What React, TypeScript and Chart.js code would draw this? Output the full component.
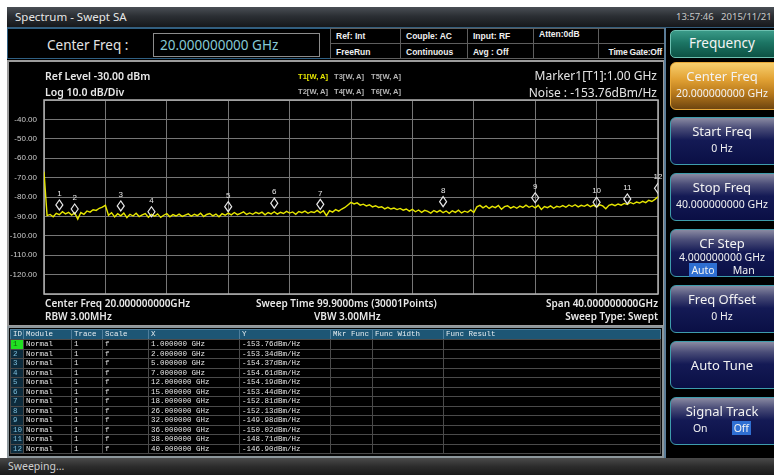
import React, { useEffect, useRef } from "react";
import { Chart, registerables } from "chart.js";

Chart.register(...registerables);

// ---- data ----
const FREQ_MIN_GHZ = 0;
const FREQ_MAX_GHZ = 40;
const FREQ_STEP_GHZ = 0.2;
const REF_LEVEL_DBM = -30;
const BOTTOM_LEVEL_DBM = -130;
const DB_PER_DIV = 10;

const TRACE_DBM = [
  -67.0, -89.6, -89.0, -90.2, -88.4, -89.1, -87.6, -88.7, -87.9, -89.3,
  -88.2, -91.4, -88.0, -88.9, -87.2, -87.8, -86.6, -86.9, -85.8, -85.2,
  -84.3, -89.4, -88.1, -90.3, -88.6, -89.7, -88.3, -90.6, -88.9, -89.8,
  -88.4, -90.1, -89.2, -88.5, -90.4, -89.0, -89.9, -88.7, -90.5, -89.4,
  -88.6, -90.2, -89.1, -89.8, -88.8, -90.0, -89.3, -88.7, -89.9, -88.9,
  -89.6, -88.4, -90.1, -89.0, -88.5, -89.7, -88.8, -90.2, -88.6, -89.4,
  -88.3, -89.2, -88.0, -89.1, -88.4, -87.7, -89.0, -88.2, -88.9, -87.9,
  -88.6, -87.8, -89.2, -88.0, -88.7, -87.6, -88.8, -87.9, -88.5, -87.4,
  -88.3, -87.7, -88.9, -87.5, -88.1, -87.3, -88.4, -87.6, -88.0, -86.9,
  -88.2, -87.1, -89.6, -87.0, -87.8, -86.5, -87.3, -86.2, -85.4, -84.1,
  -82.8, -83.6, -83.0, -84.2, -83.7, -84.6, -84.0, -85.1, -84.5, -85.4,
  -85.0, -86.1, -85.3, -86.2, -85.7, -86.5, -85.9, -86.8, -86.2, -87.3,
  -86.4, -87.6, -86.7, -87.9, -86.9, -87.4, -88.3, -87.0, -87.8, -86.9,
  -88.1, -87.2, -88.4, -87.1, -87.9, -86.8, -88.2, -87.3, -87.9, -86.7,
  -88.0, -85.1, -84.3, -85.6, -84.6, -85.9, -84.8, -85.5, -84.4, -86.3,
  -85.0, -84.5, -85.7, -84.9, -85.8, -84.7, -85.4, -84.2, -85.3, -84.6,
  -85.6, -84.3, -86.4, -84.9, -85.5, -84.6, -85.8, -84.8, -85.2, -84.4,
  -85.3, -84.1, -84.9, -84.0, -85.1, -84.3, -84.8, -83.9, -85.0, -84.2,
  -85.2, -84.0, -84.6, -86.1, -84.3, -83.8, -84.5, -83.6, -84.2, -83.3,
  -83.9, -82.8, -83.5, -82.6, -83.1, -82.2, -82.9, -81.7, -82.3, -81.2,
  -79.9,
];

const MARKER_IDS = [1, 2, 3, 4, 5, 6, 7, 8, 9, 10, 11, 12];
const MARKER_FREQ_GHZ = [1, 2, 5, 7, 12, 15, 18, 26, 32, 36, 38, 40];
const MARKER_LEVEL_DBM = [-84.1, -86.2, -84.6, -87.6, -85.0, -83.2, -83.8, -82.4, -80.4, -82.7, -81.0, -75.5];
const MARKER_NOISE_DBM_HZ = [-153.76, -153.34, -154.37, -154.61, -154.19, -153.44, -152.81, -152.13, -149.98, -150.02, -148.71, -146.9];

const TABLE_HEADERS = ["ID", "Module", "Trace", "Scale", "X", "Y", "Mkr Func", "Func Width", "Func Result"];

// ---- layout helpers ----
const UI_FONT = '"Noto Sans", "Open Sans", sans-serif';
const BOLD_FONT = '"Liberation Sans", Arial, sans-serif';
const MONO_FONT = '"Liberation Mono", "DejaVu Sans Mono", monospace';

const abs = (left: number, top: number, width: number, height: number, extra: React.CSSProperties = {}): React.CSSProperties => ({
  position: "absolute",
  left,
  top,
  width,
  height,
  boxSizing: "border-box",
  ...extra,
});

function SpectrumChart() {
  const ref = useRef<HTMLCanvasElement | null>(null);
  useEffect(() => {
    if (!ref.current) return;
    const tracePoints = TRACE_DBM.map((v, i) => ({ x: FREQ_MIN_GHZ + i * FREQ_STEP_GHZ, y: v }));
    const markerPoints = MARKER_FREQ_GHZ.map((f, i) => ({ x: f, y: MARKER_LEVEL_DBM[i] }));

    const framePlugin = {
      id: "frame",
      beforeDatasetsDraw(chart: any) {
        const { ctx, chartArea } = chart;
        ctx.save();
        ctx.strokeStyle = "#b0b0b0";
        ctx.lineWidth = 1.5;
        ctx.strokeRect(chartArea.left, chartArea.top, chartArea.right - chartArea.left, chartArea.bottom - chartArea.top);
        ctx.restore();
      },
    };

    const markerPlugin = {
      id: "markers",
      afterDatasetsDraw(chart: any) {
        const meta = chart.getDatasetMeta(1);
        const { ctx, chartArea } = chart;
        ctx.save();
        ctx.beginPath();
        ctx.rect(chartArea.left, chartArea.top, chartArea.right - chartArea.left, chartArea.bottom - chartArea.top);
        ctx.clip();
        ctx.strokeStyle = "#e8e8e8";
        ctx.lineWidth = 1.2;
        meta.data.forEach((pt: any) => {
          const x = pt.x;
          const y = pt.y;
          ctx.beginPath();
          ctx.moveTo(x, y - 5);
          ctx.lineTo(x + 3.5, y);
          ctx.lineTo(x, y + 5);
          ctx.lineTo(x - 3.5, y);
          ctx.closePath();
          ctx.stroke();
        });
        ctx.restore();
        ctx.save();
        ctx.fillStyle = "#e8e8e8";
        ctx.font = '8px "Liberation Sans", Arial, sans-serif';
        ctx.textAlign = "center";
        ctx.textBaseline = "middle";
        meta.data.forEach((pt: any, i: number) => {
          ctx.fillText(String(MARKER_IDS[i]), pt.x, pt.y - 11);
        });
        ctx.restore();
      },
    };

    const chart = new Chart(ref.current, {
      type: "line",
      data: {
        datasets: [
          {
            label: "T1",
            data: tracePoints,
            borderColor: "#e6e600",
            borderWidth: 1.4,
            pointRadius: 0,
            tension: 0,
          },
          {
            label: "Markers",
            data: markerPoints,
            showLine: false,
            pointRadius: 0,
            borderColor: "#e8e8e8",
          },
        ],
      },
      options: {
        responsive: false,
        animation: false,
        events: [],
        layout: { padding: { left: 0, right: 5, top: 38, bottom: 31 } },
        plugins: { legend: { display: false }, tooltip: { enabled: false } },
        scales: {
          x: {
            type: "linear",
            min: FREQ_MIN_GHZ,
            max: FREQ_MAX_GHZ,
            ticks: { display: false, stepSize: (FREQ_MAX_GHZ - FREQ_MIN_GHZ) / 10 },
            grid: { color: "#767676", drawTicks: false, lineWidth: 1 },
            border: { display: false },
            afterFit: (s: any) => {
              s.height = 0;
            },
          },
          y: {
            type: "linear",
            min: BOTTOM_LEVEL_DBM,
            max: REF_LEVEL_DBM,
            ticks: {
              stepSize: DB_PER_DIV,
              color: "#cccccc",
              padding: 7,
              font: { size: 8, family: '"Liberation Sans", Arial, sans-serif' },
              callback: (v: any) => (v === REF_LEVEL_DBM || v === BOTTOM_LEVEL_DBM ? "" : Number(v).toFixed(2)),
            },
            grid: { color: "#767676", drawTicks: false, lineWidth: 1 },
            border: { display: false },
            afterFit: (s: any) => {
              s.width = 35;
            },
          },
        },
      },
      plugins: [framePlugin, markerPlugin],
    });
    return () => chart.destroy();
  }, []);
  return <canvas ref={ref} width={654} height={263} style={{ display: "block", width: 654, height: 263 }} />;
}

function SoftKey(props: {
  top: number;
  title: string;
  sub?: React.ReactNode;
  active?: boolean;
}) {
  const { top, title, sub, active } = props;
  const bg = active
    ? "linear-gradient(to bottom, #f7cf6e 0%, #e2a234 35%, #b97a1c 65%, #6e4510 100%)"
    : "linear-gradient(to bottom, #8a8aa2 0%, #4a4d78 22%, #141a55 48%, #0a0f45 100%)";
  return (
    <div
      style={abs(670, top, 110, 48, {
        background: bg,
        border: `1.5px solid ${active ? "#e8a838" : "#3e9cac"}`,
        borderRadius: 6,
        color: "#f2f2f2",
        fontFamily: UI_FONT,
        textAlign: "center",
        paddingRight: 6,
      })}
    >
      {sub === undefined ? (
        <div style={{ fontSize: 13, lineHeight: "46px" }}>{title}</div>
      ) : (
        <>
          <div style={{ fontSize: 13, lineHeight: "16px", marginTop: 5 }}>{title}</div>
          <div style={{ fontSize: 10.5, lineHeight: "14px", marginTop: 2 }}>{sub}</div>
        </>
      )}
    </div>
  );
}

export default function App() {
  useEffect(() => {
    document.body.style.margin = "0";
  }, []);

  const statusCols = [330, 400, 467, 533, 598, 665];
  const statusTop = ["Ref: Int", "Couple: AC", "Input: RF", "Atten:0dB", ""];
  const statusBottom = ["FreeRun", "Continuous", "Avg : Off", "", "Time Gate:Off"];

  const colWidths = [13, 48, 31, 46, 91, 91, 42, 71, 217];
  const colLefts: number[] = [];
  colWidths.reduce((acc, w) => {
    colLefts.push(acc);
    return acc + w;
  }, 10);

  const rowH = 9.5;
  const headerTop = 329;
  const headerH = 10;

  return (
    <div style={{ position: "fixed", left: 0, top: 0, width: 774, height: 475, background: "#ffffff", overflow: "hidden" }}>
      {/* main screen */}
      <div style={abs(7, 7, 767, 468, { background: "#000000" })} />

      {/* title bar */}
      <div
        style={abs(7, 7, 767, 21, {
          background: "linear-gradient(to bottom, #4a4f55 0%, #2b2f34 45%, #16181b 100%)",
          borderBottom: "1px solid #355f7e",
        })}
      />
      <div style={abs(15, 8, 200, 18, { color: "#e6e6e6", fontFamily: UI_FONT, fontSize: 11.5, lineHeight: "18px" })}>
        Spectrum - Swept SA
      </div>
      <div style={abs(676, 9, 110, 16, { color: "#c8c8c8", fontFamily: UI_FONT, fontSize: 9.5, lineHeight: "16px", whiteSpace: "pre" })}>
        {"13:57:46   2015/11/21"}
      </div>

      {/* center freq row */}
      <div style={abs(7, 28, 658, 31, { border: "1px solid #2f5f82" })} />
      <div style={abs(47, 35, 110, 20, { color: "#e4e4e4", fontFamily: UI_FONT, fontSize: 13.5, lineHeight: "20px" })}>
        Center Freq :
      </div>
      <div
        style={abs(153, 33, 167, 24, {
          border: "1px solid #8c8c8c",
          color: "#86c9d6",
          fontFamily: UI_FONT,
          fontSize: 13.5,
          lineHeight: "22px",
          paddingLeft: 6,
        })}
      >
        20.000000000 GHz
      </div>
      {statusCols.slice(0, 5).map((x, i) => (
        <React.Fragment key={"st" + i}>
          <div
            style={abs(x, 28, statusCols[i + 1] - x + 1, 16, {
              border: "1px solid #5e5e5e",
              color: "#f0f0f0",
              fontFamily: BOLD_FONT,
              fontWeight: "bold",
              fontSize: 8.5,
              lineHeight: i === 3 ? "11px" : "14px",
              paddingLeft: 5,
            })}
          >
            {statusTop[i]}
          </div>
          <div
            style={abs(x, 43, statusCols[i + 1] - x + 1, 16, {
              border: "1px solid #5e5e5e",
              color: "#f0f0f0",
              fontFamily: BOLD_FONT,
              fontWeight: "bold",
              fontSize: 8.5,
              lineHeight: "16px",
              paddingLeft: i === 4 ? 0 : 5,
              paddingRight: i === 4 ? 3 : 0,
              textAlign: i === 4 ? "right" : "left",
              whiteSpace: "nowrap",
              letterSpacing: i === 4 ? -0.2 : 0,
            })}
          >
            {statusBottom[i]}
          </div>
        </React.Fragment>
      ))}

      {/* plot panel */}
      <div style={abs(7, 60, 658, 267, { border: "2px solid #9c9c9c" })} />
      <div style={abs(9, 62, 654, 263, { background: "#000" })}>
        <SpectrumChart />
      </div>
      <div style={abs(45, 69, 200, 15, { color: "#e8e8e8", fontFamily: UI_FONT, fontWeight: 600, fontSize: 10.5, lineHeight: "15px" })}>
        Ref Level -30.00 dBm
      </div>
      <div style={abs(45, 85, 200, 15, { color: "#e8e8e8", fontFamily: UI_FONT, fontWeight: 600, fontSize: 10.5, lineHeight: "15px" })}>
        Log 10.0 dB/Div
      </div>
      {[
        ["T1[W, A]", 298, 72, "#e6e600"],
        ["T3[W, A]", 334, 72, "#b4b4b4"],
        ["T5[W, A]", 371, 72, "#b4b4b4"],
        ["T2[W, A]", 298, 87, "#b4b4b4"],
        ["T4[W, A]", 334, 87, "#b4b4b4"],
        ["T6[W, A]", 371, 87, "#b4b4b4"],
      ].map(([t, x, y, c]) => (
        <div
          key={t as string}
          style={abs(x as number, y as number, 40, 10, {
            color: c as string,
            fontFamily: BOLD_FONT,
            fontWeight: "bold",
            fontSize: 7.6,
            lineHeight: "10px",
            whiteSpace: "nowrap",
          })}
        >
          {t}
        </div>
      ))}
      <div style={abs(457, 68, 200, 16, { color: "#e4e4e4", fontFamily: UI_FONT, fontSize: 12, lineHeight: "16px", textAlign: "right" })}>
        Marker1[T1]:1.00 GHz
      </div>
      <div style={abs(457, 85, 200, 16, { color: "#e4e4e4", fontFamily: UI_FONT, fontSize: 12, lineHeight: "16px", textAlign: "right", whiteSpace: "pre" })}>
        {"Noise : -153.76dBm/Hz"}
      </div>
      {[
        ["Center Freq 20.000000000GHz", 45, 296, "left"],
        ["RBW 3.00MHz", 45, 309, "left"],
        ["Sweep Time 99.9000ms (30001Points)", 256, 296, "left"],
        ["VBW 3.00MHz", 314, 309, "left"],
        ["Span 40.000000000GHz", 458, 296, "right"],
        ["Sweep Type: Swept", 458, 309, "right"],
      ].map(([t, x, y, al]) => (
        <div
          key={t as string}
          style={abs(x as number, y as number, 200, 14, {
            color: "#e8e8e8",
            fontFamily: UI_FONT,
            fontWeight: 600,
            fontSize: 10,
            lineHeight: "14px",
            textAlign: al as any,
            whiteSpace: "nowrap",
          })}
        >
          {t}
        </div>
      ))}

      {/* marker table */}
      <div style={abs(7, 326, 657, 132, { border: "2.5px solid #8d979c", background: "#050505" })} />
      {TABLE_HEADERS.map((h, c) => (
        <div
          key={"h" + c}
          style={abs(colLefts[c], headerTop, colWidths[c] + 1, headerH + 1, {
            background: "#1d5675",
            border: "1px solid #4f7f9c",
            color: "#e6eef2",
            fontFamily: MONO_FONT,
            fontSize: 7.5,
            lineHeight: "9px",
            paddingLeft: 2,
            whiteSpace: "nowrap",
            overflow: "hidden",
          })}
        >
          {h}
        </div>
      ))}
      {MARKER_IDS.map((id, r) => {
        const cells = [
          String(id),
          "Normal",
          "1",
          "f",
          `${MARKER_FREQ_GHZ[r].toFixed(6)} GHz`,
          `${MARKER_NOISE_DBM_HZ[r].toFixed(2)}dBm/Hz`,
          "",
          "",
          "",
        ];
        const top = headerTop + headerH + r * rowH;
        return cells.map((txt, c) => (
          <div
            key={"r" + r + "c" + c}
            style={abs(colLefts[c], top, colWidths[c] + 1, rowH + 1, {
              border: "1px solid #4a4a4a",
              background: c === 0 ? (r === 0 ? "#21e021" : "#0d2b3c") : "#000",
              color: c === 0 ? (r === 0 ? "#0b6a0b" : "#7dbedb") : "#e4e4e4",
              fontFamily: MONO_FONT,
              fontSize: 7.5,
              lineHeight: "8.5px",
              paddingLeft: 2,
              whiteSpace: "nowrap",
              overflow: "hidden",
            })}
          >
            {txt}
          </div>
        ));
      })}

      {/* status bar */}
      <div
        style={abs(0, 458, 774, 17, {
          background: "linear-gradient(to bottom, #4a4a4a 0%, #2c2c2c 50%, #1a1a1a 100%)",
          color: "#cfcfcf",
          fontFamily: UI_FONT,
          fontSize: 10.5,
          lineHeight: "17px",
          paddingLeft: 8,
        })}
      >
        Sweeping...
      </div>

      {/* right soft key panel */}
      <div style={abs(664, 28, 2, 430, { background: "#5a7c98" })} />
      <div
        style={abs(670, 30, 110, 28, {
          background: "linear-gradient(to bottom, #3a9a88 0%, #1c7564 45%, #0d5244 100%)",
          border: "1.5px solid #6cc0b0",
          borderRadius: 5,
          color: "#f4f4f4",
          fontFamily: UI_FONT,
          fontSize: 13.5,
          lineHeight: "25px",
          textAlign: "center",
          paddingRight: 6,
        })}
      >
        Frequency
      </div>
      <SoftKey top={62} title="Center Freq" sub="20.000000000 GHz" active />
      <SoftKey top={117} title="Start Freq" sub="0 Hz" />
      <SoftKey top={173} title="Stop Freq" sub="40.000000000 GHz" />
      <SoftKey
        top={229}
        title="CF Step"
        sub={
          <>
            <div style={{ lineHeight: "13px", marginTop: -2 }}>4.000000000 GHz</div>
            <div style={{ lineHeight: "13px", fontSize: 10.5 }}>
              <span style={{ background: "#2f6fd2", padding: "0 2px" }}>Auto</span>
              <span style={{ marginLeft: 16 }}>Man</span>
            </div>
          </>
        }
      />
      <SoftKey top={285} title="Freq Offset" sub="0 Hz" />
      <SoftKey top={341} title="Auto Tune" />
      <SoftKey
        top={397}
        title="Signal Track"
        sub={
          <>
            <span>On</span>
            <span style={{ marginLeft: 24, background: "#2f6fd2", padding: "0 2px" }}>Off</span>
          </>
        }
      />
    </div>
  );
}
